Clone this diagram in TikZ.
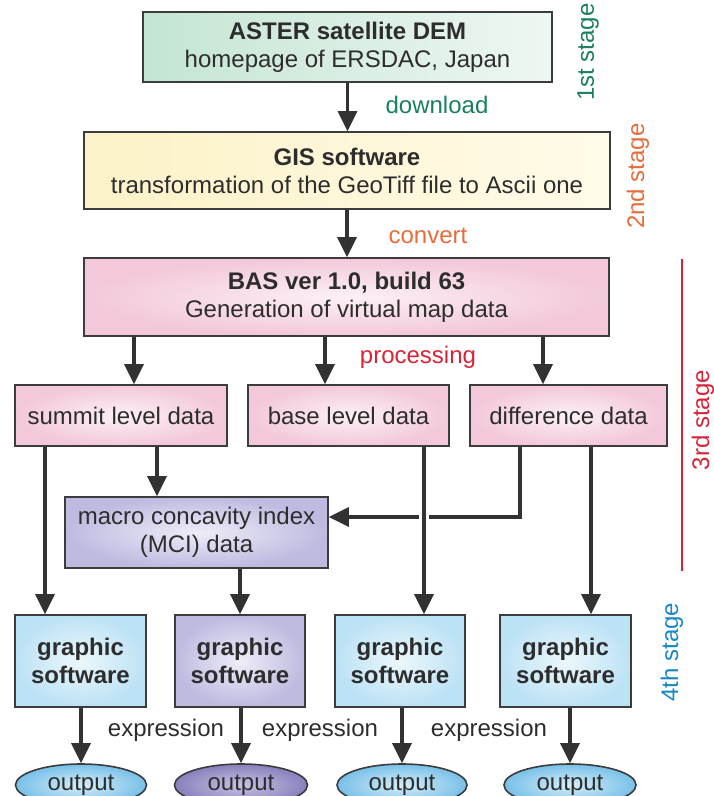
\documentclass[tikz,border=0pt]{standalone}
\usepackage{fontspec}
\setmainfont{Liberation Sans}
\usetikzlibrary{arrows.meta, shapes.geometric}

\definecolor{boxline}{RGB}{60,60,60}
\definecolor{txtgray}{RGB}{45,45,45}
\definecolor{arrowgray}{RGB}{50,50,50}
\definecolor{greenL}{RGB}{196,229,211}
\definecolor{greenR}{RGB}{238,247,242}
\definecolor{yellowL}{RGB}{252,242,200}
\definecolor{yellowR}{RGB}{255,251,232}
\definecolor{pinkin}{RGB}{252,240,246}
\definecolor{pinkout}{RGB}{243,200,218}
\definecolor{lavin}{RGB}{238,237,248}
\definecolor{lavout}{RGB}{190,186,224}
\definecolor{bluein}{RGB}{236,247,252}
\definecolor{blueout}{RGB}{188,226,245}
\definecolor{ovalin}{RGB}{214,238,250}
\definecolor{ovalout}{RGB}{120,192,232}
\definecolor{ovalpin}{RGB}{200,196,228}
\definecolor{ovalpout}{RGB}{136,128,188}
\definecolor{stagegreen}{RGB}{24,128,92}
\definecolor{stageorange}{RGB}{232,108,58}
\definecolor{stagered}{RGB}{216,36,56}
\definecolor{stageblue}{RGB}{24,136,196}

\begin{document}
\begin{tikzpicture}[x=1pt, y=-1pt,
    box/.style={rectangle, draw=boxline, line width=1.6pt, inner sep=0pt, align=center, text=txtgray, font=\fontsize{24}{28}\selectfont},
    greenbox/.style={box, left color=greenL, right color=greenR},
    yellowbox/.style={box, left color=yellowL, right color=yellowR},
    pinkbox/.style={box, inner color=pinkin, outer color=pinkout},
    lavbox/.style={box, inner color=lavin, outer color=lavout},
    bluebox/.style={box, inner color=bluein, outer color=blueout, minimum width=131pt, minimum height=92pt, font=\fontsize{24}{28}\selectfont\bfseries},
    oval/.style={ellipse, draw=boxline, line width=1.6pt, inner sep=0pt, minimum width=131pt, minimum height=42pt, text=txtgray, font=\fontsize{24}{28}\selectfont, inner color=ovalin, outer color=ovalout},
    lbl/.style={font=\fontsize{24}{28}\selectfont},
    stage/.style={lbl, rotate=90},
    arrow/.style={-{Triangle[length=20pt, width=19pt]}, line width=3.2pt, draw=arrowgray}]
    \useasboundingbox (0,0) rectangle (713,796);
    \clip (0,0) rectangle (713,796);

    % Nodes
    \node[greenbox, minimum width=409pt, minimum height=70pt] (aster) at (347.5,47) {\textbf{ASTER satellite DEM}\\homepage of ERSDAC, Japan};
    \node[yellowbox, minimum width=526pt, minimum height=77pt] (gis) at (347,170.5) {\textbf{GIS software}\\transformation of the GeoTiff file to Ascii one};
    \node[pinkbox, minimum width=525pt, minimum height=78pt] (bas) at (346.5,297) {\textbf{BAS ver 1.0, build 63}\\Generation of virtual map data};
    \node[pinkbox, minimum width=212pt, minimum height=61pt] (summit) at (121,415.5) {summit level data};
    \node[pinkbox, minimum width=201pt, minimum height=61pt] (base) at (348.5,415.5) {base level data};
    \node[pinkbox, minimum width=197pt, minimum height=61pt] (diff) at (568.5,415.5) {difference data};
    \node[lavbox, minimum width=263pt, minimum height=71pt] (mci) at (196.5,532.5) {macro concavity index\\(MCI) data};
    \node[bluebox] (g1) at (80.5,661) {graphic\\software};
    \node[bluebox, inner color=lavin, outer color=lavout, minimum width=130pt] (g2) at (240,661) {graphic\\software};
    \node[bluebox, minimum width=130pt] (g3) at (400,661) {graphic\\software};
    \node[bluebox] (g4) at (565.5,661) {graphic\\software};
    \node[oval] (o1) at (81,785) {output};
    \node[oval, inner color=ovalpin, outer color=ovalpout, minimum width=133pt] (o2) at (241,785) {output};
    \node[oval, minimum width=130pt] (o3) at (402,785) {output};
    \node[oval, minimum width=132pt] (o4) at (570,785) {output};

    % Labels
    \node[lbl, text=stagegreen] (dl) at (437,105) {download};
    \node[lbl, text=stageorange] (cv) at (428,236) {convert};
    \node[lbl, text=stagered] (pr) at (418,357) {processing};
    \node[lbl, text=txtgray] (ex1) at (166,730) {expression};
    \node[lbl, text=txtgray] (ex2) at (320,730) {expression};
    \node[lbl, text=txtgray] (ex3) at (489,730) {expression};
    \node[stage, text=stagegreen] (st1) at (588,52) {1st stage};
    \node[stage, text=stageorange] (st2) at (638,176) {2nd stage};
    \node[stage, text=stagered] (st3) at (703,420) {3rd stage};
    \node[stage, text=stageblue] (st4) at (672,652) {4th stage};
    \coordinate (redtop) at (682,259);
    \coordinate (redbot) at (682,571);
    \draw[stagered, line width=1.6pt] (redtop) -- (redbot);

    % Arrows
    \draw[arrow] (aster.south) -- (aster.south |- gis.north);
    \draw[arrow] (gis.south) -- (gis.south |- bas.north);
    \draw[arrow] ([xshift=13pt]summit.north |- bas.south) -- ([xshift=13pt]summit.north);
    \draw[arrow] ([xshift=-23.5pt]base.north |- bas.south) -- ([xshift=-23.5pt]base.north);
    \draw[arrow] ([xshift=-25.5pt]diff.north |- bas.south) -- ([xshift=-25.5pt]diff.north);
    \draw[arrow] ([xshift=-35.5pt]g1.north |- summit.south) -- ([xshift=-35.5pt]g1.north);
    \draw[arrow] ([xshift=-39.5pt]mci.north |- summit.south) -- ([xshift=-39.5pt]mci.north);
    \draw[arrow] ([xshift=-48.5pt]diff.south) |- ([yshift=15.5pt]mci.east);
    \draw[arrow, preaction={draw=white, line width=10pt, arrows=-, shorten <=8pt, shorten >=40pt}] ([xshift=24pt]g3.north |- base.south) -- ([xshift=24pt]g3.north);
    \draw[arrow] ([xshift=25.5pt]g4.north |- diff.south) -- ([xshift=25.5pt]g4.north);
    \draw[arrow] (g2.north |- mci.south) -- (g2.north);
    \draw[arrow] (o1.north |- g1.south) -- (o1.north);
    \draw[arrow] (o2.north |- g2.south) -- (o2.north);
    \draw[arrow] (o3.north |- g3.south) -- (o3.north);
    \draw[arrow] (o4.north |- g4.south) -- (o4.north);
\end{tikzpicture}
\end{document}
